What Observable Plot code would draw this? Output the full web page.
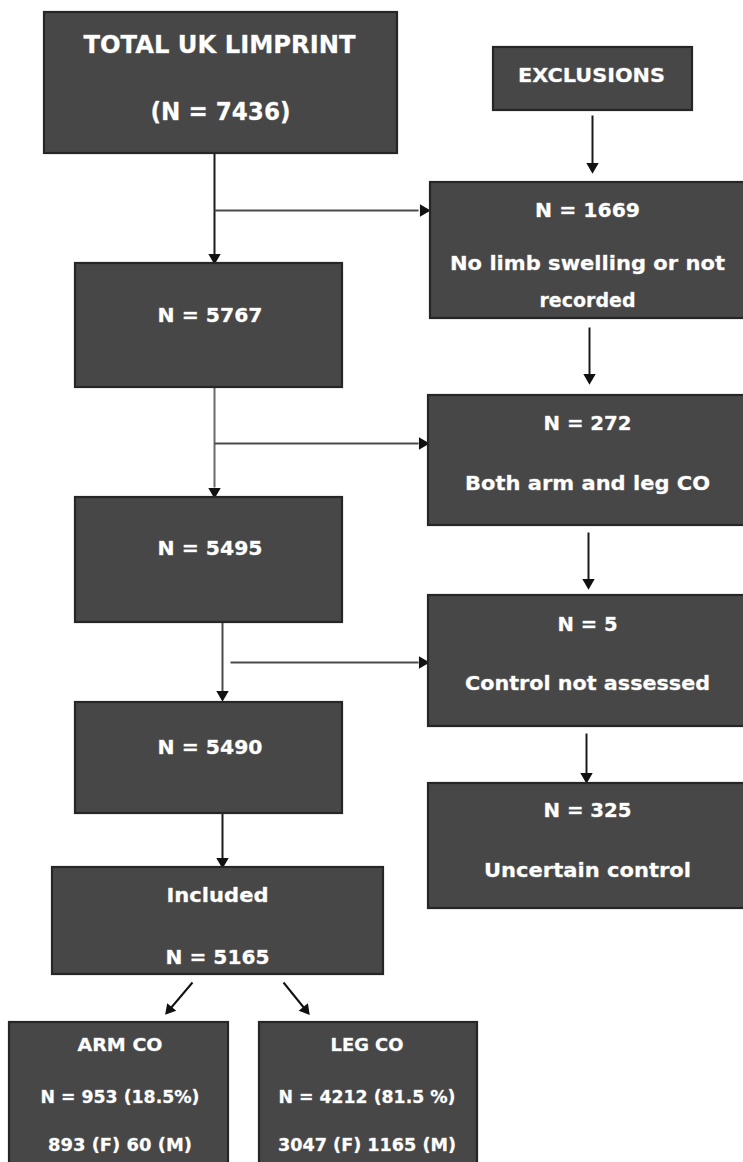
<!DOCTYPE html>
<html>
<head>
<meta charset="utf-8">
<script src="https://cdn.jsdelivr.net/npm/d3@7"></script>
<script src="https://cdn.jsdelivr.net/npm/@observablehq/plot@0.6"></script>
<style>
  html, body { margin: 0; padding: 0; background: #ffffff; }
  #chart svg { display: block; }
</style>
</head>
<body>
<div id="chart"></div>
<script>
// ---- data ----
const stageCounts = [7436, 5767, 5495, 5490, 5165];
const exclusionCounts = [1669, 272, 5, 325];
const exclusionReasons = [["No limb swelling or not", "recorded"], ["Both arm and leg CO"], ["Control not assessed"], ["Uncertain control"]];
const groupNames = ["ARM CO", "LEG CO"];
const groupCounts = [953, 4212];
const groupPercents = ["18.5%", "81.5 %"];
const groupFemale = [893, 3047];
const groupMale = [60, 1165];

// ---- layout (pixel space) ----
const W = 743, H = 1162;
const mainBoxes = [
  {x1: 44, x2: 397, y1: 12, y2: 153},
  {x1: 75, x2: 342, y1: 263, y2: 387},
  {x1: 75, x2: 342, y1: 497, y2: 622},
  {x1: 75, x2: 342, y1: 702, y2: 813},
  {x1: 52, x2: 383, y1: 867, y2: 974}
];
const exclBoxes = [
  {x1: 430, x2: 748, y1: 182, y2: 318},
  {x1: 428, x2: 748, y1: 395, y2: 525},
  {x1: 428, x2: 748, y1: 595, y2: 726},
  {x1: 428, x2: 748, y1: 783, y2: 908}
];
const headerBox = {x1: 493, x2: 692, y1: 47, y2: 110};
const groupBoxes = [
  {x1: 9, x2: 228, y1: 1022, y2: 1175},
  {x1: 259, x2: 477, y1: 1022, y2: 1175}
];
const boxes = [...mainBoxes, ...exclBoxes, headerBox, ...groupBoxes];

// text rows: position, font size and rendered width (w)
const labels = [];
labels.push({x: 219, y: 44, text: "TOTAL UK LIMPRINT", size: 25, w: 272});
labels.push({x: 220, y: 111, text: `(N = ${stageCounts[0]})`, size: 25, w: 140});
labels.push({x: 591, y: 75, text: "EXCLUSIONS", size: 19, w: 147});
const mainTextY = [315, 548, 747];
const mainTextW = [105, 105, 105];
[1, 2, 3].forEach((i, k) => {
  labels.push({x: 209.5, y: mainTextY[k], text: `N = ${stageCounts[i]}`, size: 20, w: mainTextW[k]});
});
labels.push({x: 217, y: 895, text: "Included", size: 20, w: 102});
labels.push({x: 217, y: 957, text: `N = ${stageCounts[4]}`, size: 20, w: 104});
const exclTextY = [[210, 263, 300], [423, 483], [624, 683], [810, 870]];
const exclTextW = [[105, 275, 96], [88, 245], [60, 245], [88, 207]];
exclusionCounts.forEach((c, i) => {
  const cx = 587;
  labels.push({x: cx, y: exclTextY[i][0], text: `N = ${c}`, size: 20, w: exclTextW[i][0]});
  exclusionReasons[i].forEach((r, j) => labels.push({x: cx, y: exclTextY[i][j + 1], text: r, size: 20, w: exclTextW[i][j + 1]}));
});
const groupTextW = [[85, 159, 144], [73, 177, 178]];
const groupCx = [119.5, 366.5];
groupNames.forEach((g, i) => {
  const cx = groupCx[i];
  labels.push({x: cx, y: 1045, text: g, size: 18, w: groupTextW[i][0]});
  labels.push({x: cx, y: 1097, text: `N = ${groupCounts[i]} (${groupPercents[i]})`, size: 18, w: groupTextW[i][1]});
  labels.push({x: cx, y: 1145, text: `${groupFemale[i]} (F) ${groupMale[i]} (M)`, size: 18, w: groupTextW[i][2]});
});

// connector lines and filled triangle heads
const segs = [
  {x1: 214, y1: 153, x2: 214, y2: 254, c: "#1a1a1a"},
  {x1: 214, y1: 210, x2: 418, y2: 210, c: "#4a4a4a"},
  {x1: 592, y1: 115, x2: 592, y2: 163, c: "#1a1a1a"},
  {x1: 214, y1: 387, x2: 214, y2: 487, c: "#6a6a6a"},
  {x1: 214, y1: 443, x2: 418, y2: 443, c: "#4a4a4a"},
  {x1: 589, y1: 327, x2: 589, y2: 374, c: "#1a1a1a"},
  {x1: 222, y1: 622, x2: 222, y2: 691, c: "#4a4a4a"},
  {x1: 230, y1: 662, x2: 418, y2: 662, c: "#4a4a4a"},
  {x1: 588, y1: 532, x2: 588, y2: 579, c: "#1a1a1a"},
  {x1: 586, y1: 733, x2: 586, y2: 773, c: "#1a1a1a"},
  {x1: 222, y1: 813, x2: 222, y2: 858, c: "#1a1a1a"}
];
const heads = [
  {x: 214, y: 257, r: 180},
  {x: 423, y: 210, r: 90},
  {x: 592, y: 166, r: 180},
  {x: 214, y: 491, r: 180},
  {x: 422, y: 443, r: 90},
  {x: 589, y: 377, r: 180},
  {x: 222, y: 694, r: 180},
  {x: 422, y: 662, r: 90},
  {x: 588, y: 582, r: 180},
  {x: 586, y: 776, r: 180},
  {x: 222, y: 861, r: 180}
];
const diag = [
  {x1: 192, y1: 982, x2: 170, y2: 1008},
  {x1: 283, y1: 982, x2: 304, y2: 1008}
];
// triangle heads for the diagonal arrows, oriented along each line
const diagHeads = diag.map(d => {
  const dx = d.x2 - d.x1, dy = d.y2 - d.y1, len = Math.hypot(dx, dy);
  return {x: d.x2 + dx / len * 1.5, y: d.y2 + dy / len * 1.5, r: Math.atan2(dx, -dy) * 180 / Math.PI};
});

const font = "'DejaVu Sans', 'Open Sans', sans-serif";

const chart = Plot.plot({
  width: W,
  height: H,
  margin: 0,
  x: {domain: [0, W], range: [0, W], axis: null},
  y: {domain: [0, H], range: [0, H], axis: null},
  style: {background: "#ffffff", fontFamily: font},
  marks: [
    Plot.link(segs, {x1: "x1", y1: "y1", x2: "x2", y2: "y2", stroke: "c", strokeWidth: 2}),
    Plot.dot(heads, {x: "x", y: "y", symbol: "triangle", r: 4.6, fill: "#111", stroke: "none", rotate: "r"}),
    Plot.link(diag, {x1: "x1", y1: "y1", x2: "x2", y2: "y2", stroke: "#111", strokeWidth: 2}),
    Plot.dot(diagHeads, {x: "x", y: "y", symbol: "triangle", r: 4.4, fill: "#111", stroke: "none", rotate: "r"}),
    Plot.rect(boxes, {x1: "x1", x2: "x2", y1: "y1", y2: "y2", fill: "#474747", stroke: "#262626", strokeWidth: 2.2}),
    Plot.text(labels, {x: "x", y: "y", text: "text", fontSize: "size", fill: "#ffffff", fontWeight: "bold", stroke: "#8a8a8a", strokeWidth: 0.8, paintOrder: "stroke", className: "flow-label"})
  ]
});
// stretch each label to the width it has in the picture
d3.select(chart).selectAll(".flow-label text").each(function(i) {
  const d = labels[typeof i === "number" ? i : 0];
  if (d && d.w) d3.select(this).attr("textLength", d.w).attr("lengthAdjust", "spacingAndGlyphs");
});
document.getElementById("chart").append(chart);
</script>
</body>
</html>
